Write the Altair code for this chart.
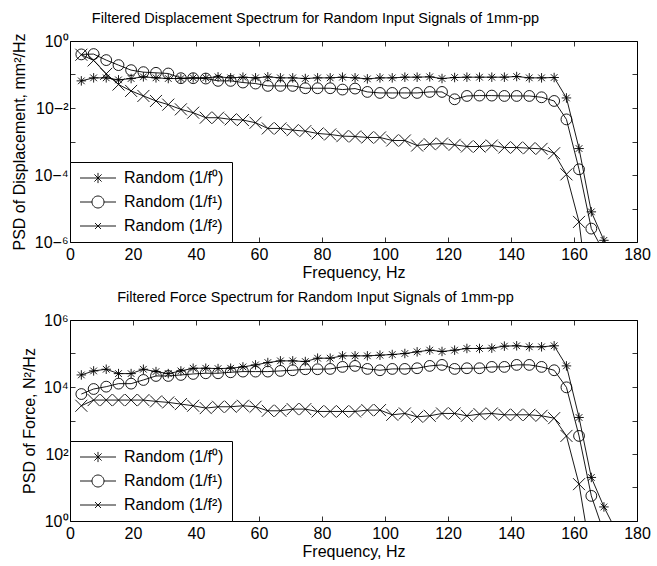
import altair as alt
import pandas as pd

FONT = "Liberation Sans"

freq = [3.6, 7.5, 11.5, 15.4, 19.4, 23.3, 27.3, 31.2, 35.2, 39.1,
        43.1, 47.0, 51.0, 54.9, 58.9, 62.8, 66.8, 70.7, 74.7, 78.6,
        82.6, 86.5, 90.5, 94.4, 98.4, 102.3, 106.3, 110.2, 114.2, 118.1,
        122.1, 126.0, 130.0, 133.9, 137.9, 141.8, 145.8, 149.7, 153.7, 157.6,
        161.6, 165.5, 169.5, 173.4]

series_names = ["Random (1/f⁰)", "Random (1/f¹)", "Random (1/f²)"]

# log10 of displacement PSD (mm^2/Hz)
disp_f0 = [-1.19, -1.10, -1.10, -1.16, -1.12, -1.07, -1.10, -1.12, -1.12, -1.10,
           -1.10, -1.07, -1.10, -1.08, -1.10, -1.07, -1.10, -1.10, -1.12, -1.10,
           -1.10, -1.08, -1.10, -1.13, -1.10, -1.10, -1.08, -1.08, -1.07, -1.12,
           -1.09, -1.08, -1.08, -1.08, -1.08, -1.06, -1.10, -1.10, -1.09, -1.70,
           -3.21, -5.10, -5.95, -7.50]
disp_f1 = [-0.40, -0.39, -0.57, -0.72, -0.87, -0.93, -0.95, -0.97, -1.11, -1.11,
           -1.12, -1.19, -1.19, -1.24, -1.27, -1.34, -1.34, -1.34, -1.41, -1.41,
           -1.41, -1.45, -1.42, -1.52, -1.55, -1.55, -1.55, -1.55, -1.52, -1.52,
           -1.74, -1.64, -1.63, -1.63, -1.64, -1.64, -1.64, -1.68, -1.79, -2.34,
           -3.83, -5.60, -6.30]
disp_f2 = [-0.41, -0.58, -0.98, -1.30, -1.49, -1.64, -1.79, -1.90, -2.04, -2.14,
           -2.29, -2.29, -2.34, -2.36, -2.44, -2.61, -2.61, -2.66, -2.69, -2.76,
           -2.79, -2.84, -2.85, -2.88, -2.88, -2.97, -2.97, -3.12, -3.08, -3.06,
           -3.10, -3.15, -3.15, -3.12, -3.18, -3.18, -3.20, -3.22, -3.35, -3.98,
           -5.40, -8.30]

# log10 of force PSD (N^2/Hz)
force_f0 = [4.36, 4.48, 4.53, 4.40, 4.40, 4.53, 4.46, 4.40, 4.48, 4.56,
            4.56, 4.55, 4.56, 4.60, 4.66, 4.73, 4.78, 4.78, 4.76, 4.86,
            4.86, 4.93, 4.93, 4.93, 4.95, 4.97, 5.00, 5.05, 5.10, 5.06,
            5.10, 5.15, 5.15, 5.16, 5.22, 5.23, 5.20, 5.20, 5.23, 4.63,
            3.09, 1.30, 0.42, -0.30]
force_f1 = [3.79, 3.94, 4.01, 4.10, 4.10, 4.21, 4.33, 4.33, 4.36, 4.39,
            4.41, 4.41, 4.44, 4.46, 4.46, 4.46, 4.48, 4.50, 4.53, 4.53,
            4.54, 4.60, 4.63, 4.54, 4.50, 4.54, 4.54, 4.56, 4.63, 4.66,
            4.54, 4.56, 4.56, 4.60, 4.60, 4.66, 4.66, 4.60, 4.50, 3.99,
            2.54, 0.75, -0.35]
force_f2 = [3.44, 3.61, 3.61, 3.61, 3.61, 3.61, 3.57, 3.54, 3.49, 3.44,
            3.37, 3.41, 3.41, 3.44, 3.41, 3.29, 3.29, 3.34, 3.34, 3.27,
            3.27, 3.27, 3.27, 3.31, 3.31, 3.17, 3.21, 3.11, 3.14, 3.21,
            3.21, 3.14, 3.19, 3.21, 3.17, 3.17, 3.17, 3.14, 3.07, 2.54,
            1.10, -1.10]

x_ticks = [0, 20, 40, 60, 80, 100, 120, 140, 160, 180]
disp_ticks = [1e-6, 1e-5, 1e-4, 1e-3, 1e-2, 1e-1, 1e0]
force_ticks = [1e0, 1e1, 1e2, 1e3, 1e4, 1e5, 1e6]

STAR = "M0,-1L0,1M-1,0L1,0M-0.7,-0.7L0.7,0.7M-0.7,0.7L0.7,-0.7"
XMARK = "M-1,-1L1,1M-1,1L1,-1"
LEG_STAR = "M-3,0L3,0M0,-0.85L0,0.85M-0.6,-0.6L0.6,0.6M-0.6,0.6L0.6,-0.6"
LEG_CIRC = "M-3,0L-1,0M1,0L3,0M-1,0A1,1,0,1,1,1,0A1,1,0,1,1,-1,0"
LEG_X = "M-3,0L3,0M-0.5,-0.5L0.5,0.5M-0.5,0.5L0.5,-0.5"

EXP = "round(log(datum.value)/LN10)"
LABEL_EXPR = (
    f"({EXP} % 2 != 0) ? '' : '10' + "
    f"replace(replace(replace(replace(replace(format({EXP}, 'd'), '-', '⁻'), '0', '⁰'), '2', '²'), '4', '⁴'), '6', '⁶')"
)


def to_frame(vals_list):
    rows = []
    for name, vals in zip(series_names, vals_list):
        for f, v in zip(freq, vals):
            rows.append({"f": f, "psd": 10 ** v, "series": name})
    return pd.DataFrame(rows)


axis_common = dict(domain=False, grid=False, ticks=True, tickSize=5, tickColor="black",
                   tickWidth=0.8, offset=-5, labelFont=FONT, labelFontSize=16,
                   labelColor="black", labelFlush=False, labelOverlap=False,
                   titleFont=FONT, titleFontSize=16, titleFontWeight="normal",
                   titleColor="black")


def panel(vals_list, ydomain, yticks, ytitle, title):
    df = to_frame(vals_list)
    legdf = pd.DataFrame({"f": [50, 60, 70], "psd": [ydomain[0] / 1000] * 3,
                          "series": series_names})
    xsc = alt.Scale(domain=[0, 180], nice=False, zero=False)
    ysc = alt.Scale(type="log", domain=ydomain, nice=False)
    base = alt.Chart(df)
    lines = base.mark_line(color="black", strokeWidth=0.9, clip=True).encode(
        x=alt.X("f:Q", scale=xsc,
                axis=alt.Axis(values=x_ticks, title="Frequency, Hz", orient="bottom",
                              labelPadding=4, titlePadding=2, **axis_common)),
        y=alt.Y("psd:Q", scale=ysc,
                axis=alt.Axis(values=yticks, title=ytitle, orient="left",
                              labelExpr=LABEL_EXPR, labelPadding=2, titlePadding=6,
                              **axis_common)),
        detail="series:N",
    )
    points = base.mark_point(filled=False, color="black", strokeWidth=0.9,
                             clip=True, opacity=1).encode(
        x=alt.X("f:Q", scale=xsc,
                axis=alt.Axis(values=x_ticks, title=None, orient="top", labels=False,
                              **axis_common)),
        y=alt.Y("psd:Q", scale=ysc,
                axis=alt.Axis(values=yticks, title=None, orient="right", labels=False,
                              **axis_common)),
        shape=alt.Shape("series:N", scale=alt.Scale(domain=series_names,
                                                    range=[STAR, "circle", XMARK]),
                        legend=None),
        size=alt.Size("series:N", scale=alt.Scale(domain=series_names,
                                                  range=[90, 144, 30]),
                      legend=None),
    )
    leg = alt.Chart(legdf).mark_point(filled=False, color="black", strokeWidth=0.9,
                                      clip=True, opacity=1).encode(
        x=alt.X("f:Q", scale=xsc, axis=None),
        y=alt.Y("psd:Q", scale=ysc, axis=None),
        shape=alt.Shape("series:N",
                        scale=alt.Scale(domain=series_names,
                                        range=[LEG_STAR, LEG_CIRC, LEG_X]),
                        legend=alt.Legend(title=None, orient="bottom-left", offset=0,
                                          padding=8, fillColor="white",
                                          strokeColor="black", labelFont=FONT,
                                          labelFontSize=16, labelColor="black",
                                          symbolSize=144, symbolStrokeWidth=0.9,
                                          symbolStrokeColor="black",
                                          symbolFillColor="transparent",
                                          symbolOffset=12, labelOffset=18,
                                          rowPadding=8)),
    )
    return alt.layer(lines, points, leg).resolve_scale(
        shape="independent", size="independent"
    ).resolve_axis(x="independent", y="independent").properties(
        width=567, height=201,
        title=alt.Title(title, font=FONT, fontSize=14.5, fontWeight="normal",
                        color="black", dx=-38, offset=7),
    )


top = panel([disp_f0, disp_f1, disp_f2], [1e-6, 1e0], disp_ticks,
            "PSD of Displacement, mm²/Hz",
            "Filtered Displacement Spectrum for Random Input Signals of 1mm-pp")
bottom = panel([force_f0, force_f1, force_f2], [1e0, 1e6], force_ticks,
               "PSD of Force, N²/Hz",
               "Filtered Force Spectrum for Random Input Signals of 1mm-pp")

chart = alt.vconcat(top, bottom, spacing=78, bounds="flush").resolve_scale(
    shape="independent", size="independent"
).properties(
    padding={"left": 11, "top": 10, "right": 4, "bottom": 2},
    background="white",
).configure_view(stroke="black", strokeWidth=1)

chart.save("out.html", embed_options={"renderer": "svg", "actions": False})
